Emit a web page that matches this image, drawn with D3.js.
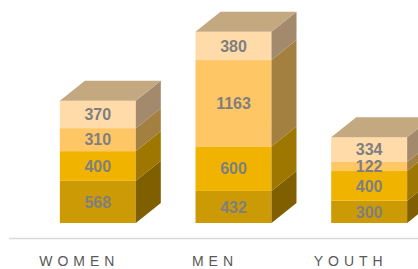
<!DOCTYPE html>
<html>
<head>
<meta charset="utf-8">
<script src="https://cdn.jsdelivr.net/npm/d3@7"></script>
<style>
  body { margin: 0; background: #fff; }
  svg { display: block; }
</style>
</head>
<body>
<div id="chart"></div>
<script>
// categories and stacked values, bottom layer first
let categories = ["WOMEN", "MEN", "YOUTH"];
let layer1 = [568, 432, 300];
let layer2 = [400, 600, 400];
let layer3 = [310, 1163, 122];
let layer4 = [370, 380, 334];

let layers = [layer1, layer2, layer3, layer4];
let frontColors = ["#CC9A04", "#F0B400", "#FFC666", "#FFDBA9"];
let sideColors = ["#7F5F00", "#9E7700", "#A3803F", "#A48A6C"];
let topColor = "#C3A880";

let width = 418, height = 269;
let dx = 25, dy = -20; // depth of the 3d boxes

let svg = d3.select("#chart").append("svg")
    .attr("width", width)
    .attr("height", height);

let x = d3.scaleBand()
    .domain(categories)
    .range([30, 437])
    .paddingInner(0.44)
    .paddingOuter(0.22);

let y = d3.scaleLinear()
    .domain([0, 2600])
    .range([223, 30]);

// floor line
svg.append("line")
    .attr("x1", 9).attr("x2", width)
    .attr("y1", 238.5).attr("y2", 238.5)
    .style("stroke", "#D9D9D9")
    .style("stroke-width", 1.5);

// build stacked rows
let rows = categories.map((c, i) => {
    let acc = 0;
    return layers.map((l, k) => {
        let seg = { cat: c, layer: k, value: l[i], y0: acc, y1: acc + l[i] };
        acc += l[i];
        return seg;
    });
});

rows.forEach(segs => {
    let g = svg.append("g");
    let bw = x.bandwidth();
    segs.forEach(s => {
        let x0 = x(s.cat), x1 = x0 + bw;
        let yt = y(s.y1), yb = y(s.y0);
        g.append("rect")
            .attr("x", x0).attr("y", yt)
            .attr("width", bw).attr("height", yb - yt)
            .attr("fill", frontColors[s.layer]);
        g.append("polygon")
            .attr("points", [[x1, yt], [x1 + dx, yt + dy], [x1 + dx, yb + dy], [x1, yb]].join(" "))
            .attr("fill", sideColors[s.layer]);
    });
    let last = segs[segs.length - 1];
    let x0 = x(last.cat), x1 = x0 + bw, yt = y(last.y1);
    g.append("polygon")
        .attr("points", [[x0, yt], [x0 + dx, yt + dy], [x1 + dx, yt + dy], [x1, yt]].join(" "))
        .attr("fill", topColor);

    // value labels
    segs.forEach(s => {
        g.append("text")
            .attr("x", x0 + bw / 2)
            .attr("y", (y(s.y0) + y(s.y1)) / 2)
            .attr("dy", "0.36em")
            .attr("text-anchor", "middle")
            .style("font-family", "'Liberation Sans', Arial, sans-serif")
            .style("font-weight", "bold")
            .style("font-size", "16px")
            .style("fill", "#7F7F7F")
            .text(s.value);
    });
});

// category labels
let ls = 5;
svg.selectAll(".cat")
    .data(categories)
    .enter().append("text")
    .attr("class", "cat")
    .attr("x", d => x(d) + x.bandwidth() / 2 - 21 + ls / 2)
    .attr("y", 266)
    .attr("text-anchor", "middle")
    .style("font-family", "'Liberation Sans', Arial, sans-serif")
    .style("font-size", "14px")
    .style("letter-spacing", ls + "px")
    .style("fill", "#595959")
    .text(d => d);
</script>
</body>
</html>
